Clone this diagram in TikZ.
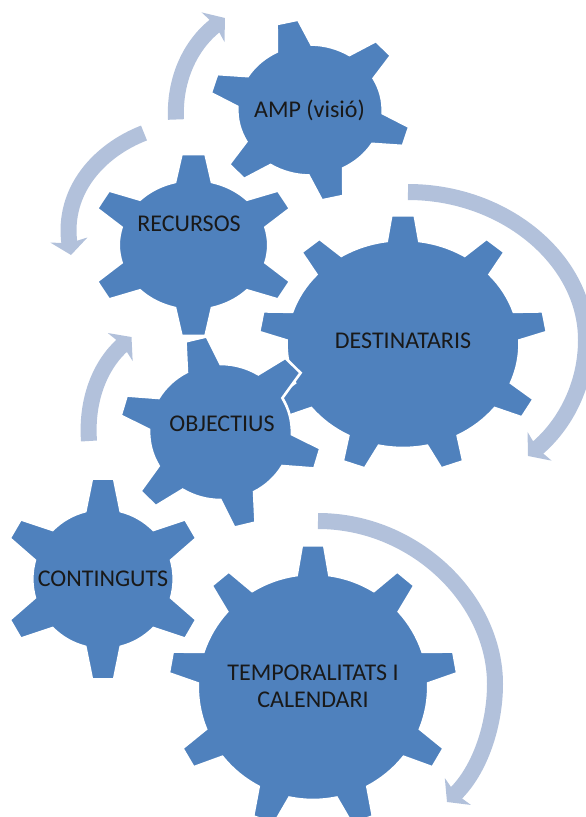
\documentclass[tikz,border=0pt]{standalone}
\usepackage{fontspec}
\setmainfont{Carlito}
\usetikzlibrary{arrows.meta}
\definecolor{gearblue}{HTML}{4F81BD}
\definecolor{arcblue}{HTML}{B2C1DB}
\tikzset{
  gearbody/.style={fill=gearblue, draw=white, line width=2.6pt},
  gearlabel/.style={text=black!90, font=\fontsize{24}{27}\selectfont, align=center, inner sep=0pt},
  arcarrow/.style={draw=arcblue, line width=16pt, -{Stealth[length=15pt, width=37pt, inset=3pt]}}
}
% centre, x stretch, body radius, tooth radius, teeth, first angle, half widths of tooth tip and root
\newcommand{\gearat}[8]{
  \begin{scope}[shift={(#1)}, xscale=#2, yscale=-1]
    \pgfmathsetmacro{\stepang}{360/#5}
    \pgfmathsetmacro{\rootang}{asin(#8/#3)}
    \pgfmathsetmacro{\tipang}{atan(#7/#4)}
    \draw[gearbody] (#6+\rootang:#3)
      \foreach \k [evaluate=\k as \a using #6-(\k-1)*\stepang] in {1,...,#5} {
        -- (\a+\tipang:#4) -- (\a-\tipang:#4) -- (\a-\rootang:#3)
        arc[start angle=\a-\rootang, delta angle=-\stepang+2*\rootang, radius=#3]
      } -- cycle;
  \end{scope}
}

\begin{document}
\begin{tikzpicture}[x=1pt, y=-1pt]
  \useasboundingbox (0,0) rectangle (586,817);

  \gearat{313,687}{1.02}{113}{142}{9}{90}{11}{16}
  \gearat{103,579}{1.01}{70}{101}{6}{90}{11}{17.5}
  \gearat{403,344}{1.12}{104}{129}{9}{90}{10.5}{14.5}
  \gearat{193.5,245}{1.15}{65}{91.5}{6}{90}{10.5}{16}
  \gearat{310,110}{1.11}{65.5}{91}{6}{103}{10}{16}
  \gearat{220.5,432}{1.05}{68}{96.5}{6}{104}{10.5}{16.5}

  \node[gearlabel] (amp) at (309.5,110) {AMP (visió)};
  \node[gearlabel] (recursos) at (189,224) {RECURSOS};
  \node[gearlabel] (destinataris) at (403,341) {DESTINATARIS};
  \node[gearlabel] (objectius) at (222,424) {OBJECTIUS};
  \node[gearlabel] (continguts) at (103,578.5) {CONTINGUTS};
  \node[gearlabel] (temporalitats) at (313,686) {TEMPORALITATS I\\CALENDARI};

  \coordinate (ampfrom) at (176,119.5);
  \coordinate (ampto) at (225,18);
  \coordinate (recfrom) at (144,133);
  \coordinate (recto) at (71,255);
  \coordinate (objfrom) at (89,441);
  \coordinate (objto) at (131.5,337);
  \coordinate (desfrom) at (408,192);
  \coordinate (desto) at (528,456);
  \coordinate (temfrom) at (318,521);
  \coordinate (temto) at (447,802);

  \draw[arcarrow] (ampfrom) .. controls (174,80) and (190,45) .. (ampto);
  \draw[arcarrow] (recfrom) .. controls (100,150) and (62,190) .. (recto);
  \draw[arcarrow] (objfrom) .. controls (86,400) and (100,365) .. (objto);
  \draw[arcarrow] (desfrom) .. controls (505,192) and (586,260) .. (586,340)
    .. controls (586,385) and (565,425) .. (desto);
  \draw[arcarrow] (temfrom) .. controls (415,521) and (495,600) .. (495,684)
    .. controls (495,725) and (480,770) .. (temto);
\end{tikzpicture}
\end{document}
